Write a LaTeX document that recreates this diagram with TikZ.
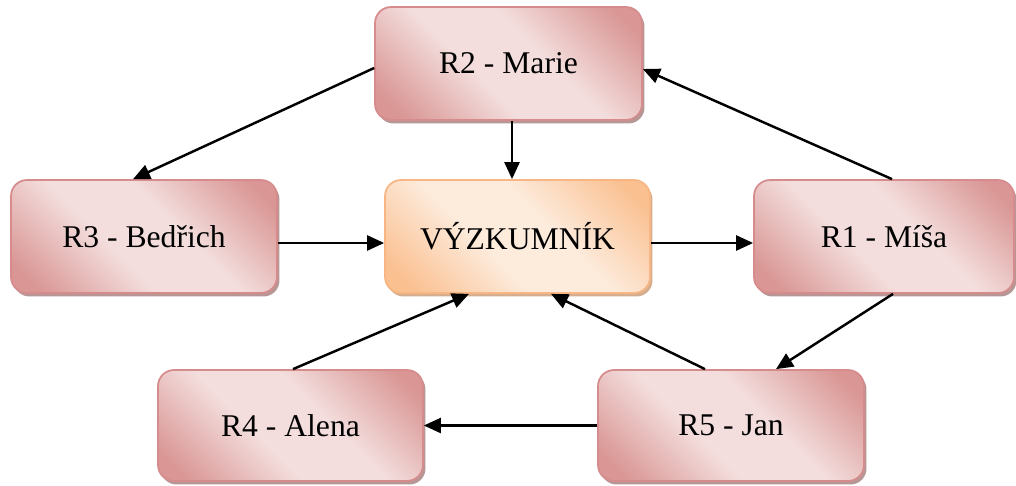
\documentclass[tikz,border=0pt]{standalone}
\usepackage{fontspec}
\setmainfont{Liberation Serif}
\usetikzlibrary{arrows.meta,shadows}

\definecolor{pinkdark}{RGB}{217,150,148}
\definecolor{pinklight}{RGB}{243,222,221}
\definecolor{pinkedge}{RGB}{214,140,140}
\definecolor{pinkshadow}{RGB}{170,132,132}
\definecolor{orangedark}{RGB}{250,192,144}
\definecolor{orangelight}{RGB}{253,235,220}
\definecolor{orangeedge}{RGB}{247,182,132}
\definecolor{orangeshadow}{RGB}{205,160,122}

% diagonal fills: dark corners, light band through the middle
\pgfdeclarehorizontalshading{pinkdiag}{100bp}{color(0bp)=(pinkdark); color(20bp)=(pinkdark);
  color(42bp)=(pinklight); color(58bp)=(pinklight); color(80bp)=(pinkdark); color(100bp)=(pinkdark)}
\pgfdeclarehorizontalshading{orangediag}{100bp}{color(0bp)=(orangedark); color(20bp)=(orangedark);
  color(42bp)=(orangelight); color(58bp)=(orangelight); color(80bp)=(orangedark); color(100bp)=(orangedark)}

\begin{document}
\begin{tikzpicture}[x=0.02cm,y=-0.02cm,
  box/.style={rounded corners=0.32cm, minimum width=5.3cm, minimum height=2.26cm,
    line width=1pt, inner sep=0pt, font=\fontsize{18}{21}\selectfont},
  rolebox/.style={box, draw=pinkedge, shading=pinkdiag, shading angle=45,
    drop shadow={shadow xshift=0.05cm, shadow yshift=-0.07cm, fill=pinkshadow, opacity=0.85}},
  centerbox/.style={box, draw=orangeedge, shading=orangediag, shading angle=45,
    drop shadow={shadow xshift=0.05cm, shadow yshift=-0.07cm, fill=orangeshadow, opacity=0.85}},
  link/.style={line width=1.4pt, -{Triangle[length=0.34cm,width=0.3cm]}}
]
\useasboundingbox (0,0) rectangle (1016,486);

% boxes
\node[rolebox, minimum width=5.34cm] (R2) at (508.5,63.5) {R2 - Marie};
\node[centerbox] (V) at (517.5,236.5) {VÝZKUMNÍK};
\node[rolebox, minimum width=5.32cm] (R3) at (144,236.5) {R3 - Bedřich};
\node[rolebox, minimum width=5.2cm] (R1) at (884,236.5) {R1 - Míša};
\node[rolebox, minimum width=5.32cm, minimum height=2.22cm] (R5) at (731,425.5) {R5 - Jan};
\node[rolebox, minimum width=5.3cm, minimum height=2.22cm] (R4) at (290.5,425.5) {R4 - Alena};

% connectors
\draw[link] ([yshift=-0.09cm]R2.west) -- ([xshift=-0.22cm]R3.north);
\draw[link] ([xshift=0.16cm]R1.north) -- ([yshift=-0.11cm]R2.east);
\draw[link] ([xshift=0.07cm]R2.south) -- ([xshift=0.07cm]R2.south |- V.north);
\draw[link] ([yshift=-0.13cm]R3.east) -- ([yshift=-0.13cm]V.west);
\draw[link] ([yshift=-0.13cm]V.east) -- ([yshift=-0.13cm]R1.west);
\draw[link] ([xshift=0.05cm]R4.north) -- ([xshift=-0.97cm]V.south);
\draw[link] ([xshift=-0.52cm]R5.north) -- ([xshift=0.67cm]V.south);
\draw[link] ([xshift=0.18cm]R1.south) -- ([xshift=0.9cm]R5.north);
\draw[link] (R5.west) -- (R4.east);
\end{tikzpicture}
\end{document}
